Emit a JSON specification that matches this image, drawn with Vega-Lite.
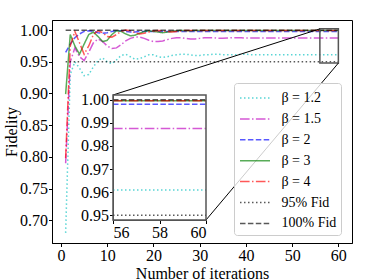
{
"$schema": "https://vega.github.io/schema/vega-lite/v6.json",
"width": 300, "height": 223,
"autosize": {"type": "none"},
"padding": {"left": 52, "top": 20, "right": 22, "bottom": 37},
"datasets": {
"fid": [
{"i":1,"f":0.680,"s":"β = 1.2"},{"i":2,"f":0.930,"s":"β = 1.2"},{"i":3,"f":0.950,"s":"β = 1.2"},{"i":4,"f":0.940,"s":"β = 1.2"},{"i":5,"f":0.928,"s":"β = 1.2"},{"i":6,"f":0.930,"s":"β = 1.2"},{"i":7,"f":0.942,"s":"β = 1.2"},{"i":8,"f":0.952,"s":"β = 1.2"},{"i":9,"f":0.956,"s":"β = 1.2"},{"i":10,"f":0.950,"s":"β = 1.2"},
{"i":11,"f":0.947,"s":"β = 1.2"},{"i":12,"f":0.953,"s":"β = 1.2"},{"i":13,"f":0.960,"s":"β = 1.2"},{"i":14,"f":0.962,"s":"β = 1.2"},{"i":15,"f":0.958,"s":"β = 1.2"},{"i":16,"f":0.954,"s":"β = 1.2"},{"i":17,"f":0.955,"s":"β = 1.2"},{"i":18,"f":0.958,"s":"β = 1.2"},{"i":19,"f":0.961,"s":"β = 1.2"},{"i":20,"f":0.961,"s":"β = 1.2"},
{"i":21,"f":0.958,"s":"β = 1.2"},{"i":22,"f":0.957,"s":"β = 1.2"},{"i":23,"f":0.958,"s":"β = 1.2"},{"i":24,"f":0.960,"s":"β = 1.2"},{"i":25,"f":0.961,"s":"β = 1.2"},{"i":26,"f":0.962,"s":"β = 1.2"},{"i":27,"f":0.962,"s":"β = 1.2"},{"i":28,"f":0.961,"s":"β = 1.2"},{"i":29,"f":0.960,"s":"β = 1.2"},{"i":30,"f":0.960,"s":"β = 1.2"},
{"i":31,"f":0.961,"s":"β = 1.2"},{"i":32,"f":0.961,"s":"β = 1.2"},{"i":33,"f":0.962,"s":"β = 1.2"},{"i":34,"f":0.962,"s":"β = 1.2"},{"i":35,"f":0.961,"s":"β = 1.2"},{"i":36,"f":0.961,"s":"β = 1.2"},{"i":37,"f":0.961,"s":"β = 1.2"},{"i":38,"f":0.961,"s":"β = 1.2"},{"i":39,"f":0.962,"s":"β = 1.2"},{"i":40,"f":0.962,"s":"β = 1.2"},
{"i":41,"f":0.961,"s":"β = 1.2"},{"i":42,"f":0.961,"s":"β = 1.2"},{"i":43,"f":0.961,"s":"β = 1.2"},{"i":44,"f":0.961,"s":"β = 1.2"},{"i":45,"f":0.961,"s":"β = 1.2"},{"i":46,"f":0.961,"s":"β = 1.2"},{"i":47,"f":0.961,"s":"β = 1.2"},{"i":48,"f":0.961,"s":"β = 1.2"},{"i":49,"f":0.961,"s":"β = 1.2"},{"i":50,"f":0.961,"s":"β = 1.2"},
{"i":51,"f":0.961,"s":"β = 1.2"},{"i":52,"f":0.961,"s":"β = 1.2"},{"i":53,"f":0.961,"s":"β = 1.2"},{"i":54,"f":0.961,"s":"β = 1.2"},{"i":55,"f":0.961,"s":"β = 1.2"},{"i":56,"f":0.961,"s":"β = 1.2"},{"i":57,"f":0.961,"s":"β = 1.2"},{"i":58,"f":0.961,"s":"β = 1.2"},{"i":59,"f":0.961,"s":"β = 1.2"},{"i":60,"f":0.961,"s":"β = 1.2"},
{"i":1,"f":0.790,"s":"β = 1.5"},{"i":2,"f":0.950,"s":"β = 1.5"},{"i":3,"f":0.972,"s":"β = 1.5"},{"i":4,"f":0.958,"s":"β = 1.5"},{"i":5,"f":0.952,"s":"β = 1.5"},{"i":6,"f":0.965,"s":"β = 1.5"},{"i":7,"f":0.980,"s":"β = 1.5"},{"i":8,"f":0.986,"s":"β = 1.5"},{"i":9,"f":0.982,"s":"β = 1.5"},{"i":10,"f":0.975,"s":"β = 1.5"},
{"i":11,"f":0.971,"s":"β = 1.5"},{"i":12,"f":0.972,"s":"β = 1.5"},{"i":13,"f":0.977,"s":"β = 1.5"},{"i":14,"f":0.983,"s":"β = 1.5"},{"i":15,"f":0.987,"s":"β = 1.5"},{"i":16,"f":0.989,"s":"β = 1.5"},{"i":17,"f":0.989,"s":"β = 1.5"},{"i":18,"f":0.987,"s":"β = 1.5"},{"i":19,"f":0.984,"s":"β = 1.5"},{"i":20,"f":0.982,"s":"β = 1.5"},
{"i":21,"f":0.982,"s":"β = 1.5"},{"i":22,"f":0.983,"s":"β = 1.5"},{"i":23,"f":0.985,"s":"β = 1.5"},{"i":24,"f":0.987,"s":"β = 1.5"},{"i":25,"f":0.988,"s":"β = 1.5"},{"i":26,"f":0.988,"s":"β = 1.5"},{"i":27,"f":0.987,"s":"β = 1.5"},{"i":28,"f":0.986,"s":"β = 1.5"},{"i":29,"f":0.986,"s":"β = 1.5"},{"i":30,"f":0.987,"s":"β = 1.5"},
{"i":31,"f":0.988,"s":"β = 1.5"},{"i":32,"f":0.988,"s":"β = 1.5"},{"i":33,"f":0.988,"s":"β = 1.5"},{"i":34,"f":0.987,"s":"β = 1.5"},{"i":35,"f":0.987,"s":"β = 1.5"},{"i":36,"f":0.9875,"s":"β = 1.5"},{"i":37,"f":0.988,"s":"β = 1.5"},{"i":38,"f":0.988,"s":"β = 1.5"},{"i":39,"f":0.988,"s":"β = 1.5"},{"i":40,"f":0.9875,"s":"β = 1.5"},
{"i":41,"f":0.9875,"s":"β = 1.5"},{"i":42,"f":0.9875,"s":"β = 1.5"},{"i":43,"f":0.9875,"s":"β = 1.5"},{"i":44,"f":0.9875,"s":"β = 1.5"},{"i":45,"f":0.9875,"s":"β = 1.5"},{"i":46,"f":0.9875,"s":"β = 1.5"},{"i":47,"f":0.9875,"s":"β = 1.5"},{"i":48,"f":0.9875,"s":"β = 1.5"},{"i":49,"f":0.9875,"s":"β = 1.5"},{"i":50,"f":0.9875,"s":"β = 1.5"},
{"i":51,"f":0.9875,"s":"β = 1.5"},{"i":52,"f":0.9875,"s":"β = 1.5"},{"i":53,"f":0.9875,"s":"β = 1.5"},{"i":54,"f":0.9875,"s":"β = 1.5"},{"i":55,"f":0.9875,"s":"β = 1.5"},{"i":56,"f":0.9875,"s":"β = 1.5"},{"i":57,"f":0.9875,"s":"β = 1.5"},{"i":58,"f":0.9875,"s":"β = 1.5"},{"i":59,"f":0.9875,"s":"β = 1.5"},{"i":60,"f":0.9875,"s":"β = 1.5"},
{"i":1,"f":0.965,"s":"β = 2"},{"i":2,"f":0.978,"s":"β = 2"},{"i":3,"f":0.988,"s":"β = 2"},{"i":4,"f":0.994,"s":"β = 2"},{"i":5,"f":0.998,"s":"β = 2"},{"i":6,"f":0.999,"s":"β = 2"},{"i":7,"f":0.998,"s":"β = 2"},{"i":8,"f":0.996,"s":"β = 2"},{"i":9,"f":0.995,"s":"β = 2"},{"i":10,"f":0.996,"s":"β = 2"},
{"i":11,"f":0.998,"s":"β = 2"},{"i":12,"f":0.999,"s":"β = 2"},{"i":13,"f":0.999,"s":"β = 2"},{"i":14,"f":0.998,"s":"β = 2"},{"i":15,"f":0.997,"s":"β = 2"},{"i":16,"f":0.997,"s":"β = 2"},{"i":17,"f":0.998,"s":"β = 2"},{"i":18,"f":0.998,"s":"β = 2"},{"i":19,"f":0.998,"s":"β = 2"},{"i":20,"f":0.998,"s":"β = 2"},
{"i":21,"f":0.998,"s":"β = 2"},{"i":22,"f":0.998,"s":"β = 2"},{"i":23,"f":0.998,"s":"β = 2"},{"i":24,"f":0.998,"s":"β = 2"},{"i":25,"f":0.998,"s":"β = 2"},{"i":26,"f":0.998,"s":"β = 2"},{"i":27,"f":0.998,"s":"β = 2"},{"i":28,"f":0.998,"s":"β = 2"},{"i":29,"f":0.998,"s":"β = 2"},{"i":30,"f":0.998,"s":"β = 2"},
{"i":31,"f":0.998,"s":"β = 2"},{"i":32,"f":0.998,"s":"β = 2"},{"i":33,"f":0.998,"s":"β = 2"},{"i":34,"f":0.998,"s":"β = 2"},{"i":35,"f":0.998,"s":"β = 2"},{"i":36,"f":0.998,"s":"β = 2"},{"i":37,"f":0.998,"s":"β = 2"},{"i":38,"f":0.998,"s":"β = 2"},{"i":39,"f":0.998,"s":"β = 2"},{"i":40,"f":0.998,"s":"β = 2"},
{"i":41,"f":0.998,"s":"β = 2"},{"i":42,"f":0.998,"s":"β = 2"},{"i":43,"f":0.998,"s":"β = 2"},{"i":44,"f":0.998,"s":"β = 2"},{"i":45,"f":0.998,"s":"β = 2"},{"i":46,"f":0.998,"s":"β = 2"},{"i":47,"f":0.998,"s":"β = 2"},{"i":48,"f":0.998,"s":"β = 2"},{"i":49,"f":0.998,"s":"β = 2"},{"i":50,"f":0.998,"s":"β = 2"},
{"i":51,"f":0.998,"s":"β = 2"},{"i":52,"f":0.998,"s":"β = 2"},{"i":53,"f":0.998,"s":"β = 2"},{"i":54,"f":0.998,"s":"β = 2"},{"i":55,"f":0.998,"s":"β = 2"},{"i":56,"f":0.998,"s":"β = 2"},{"i":57,"f":0.998,"s":"β = 2"},{"i":58,"f":0.998,"s":"β = 2"},{"i":59,"f":0.998,"s":"β = 2"},{"i":60,"f":0.998,"s":"β = 2"},
{"i":1,"f":0.899,"s":"β = 3"},{"i":2,"f":0.993,"s":"β = 3"},{"i":3,"f":0.975,"s":"β = 3"},{"i":4,"f":0.962,"s":"β = 3"},{"i":5,"f":0.978,"s":"β = 3"},{"i":6,"f":0.993,"s":"β = 3"},{"i":7,"f":0.997,"s":"β = 3"},{"i":8,"f":0.990,"s":"β = 3"},{"i":9,"f":0.982,"s":"β = 3"},{"i":10,"f":0.984,"s":"β = 3"},
{"i":11,"f":0.993,"s":"β = 3"},{"i":12,"f":0.999,"s":"β = 3"},{"i":13,"f":0.998,"s":"β = 3"},{"i":14,"f":0.994,"s":"β = 3"},{"i":15,"f":0.991,"s":"β = 3"},{"i":16,"f":0.992,"s":"β = 3"},{"i":17,"f":0.995,"s":"β = 3"},{"i":18,"f":0.998,"s":"β = 3"},{"i":19,"f":0.999,"s":"β = 3"},{"i":20,"f":0.998,"s":"β = 3"},
{"i":21,"f":0.997,"s":"β = 3"},{"i":22,"f":0.996,"s":"β = 3"},{"i":23,"f":0.997,"s":"β = 3"},{"i":24,"f":0.998,"s":"β = 3"},{"i":25,"f":0.999,"s":"β = 3"},{"i":26,"f":0.9995,"s":"β = 3"},{"i":27,"f":0.999,"s":"β = 3"},{"i":28,"f":0.999,"s":"β = 3"},{"i":29,"f":0.9995,"s":"β = 3"},{"i":30,"f":0.9995,"s":"β = 3"},
{"i":31,"f":0.9995,"s":"β = 3"},{"i":32,"f":0.9995,"s":"β = 3"},{"i":33,"f":0.9995,"s":"β = 3"},{"i":34,"f":0.9995,"s":"β = 3"},{"i":35,"f":0.9995,"s":"β = 3"},{"i":36,"f":0.9995,"s":"β = 3"},{"i":37,"f":0.9995,"s":"β = 3"},{"i":38,"f":0.9995,"s":"β = 3"},{"i":39,"f":0.9995,"s":"β = 3"},{"i":40,"f":0.9995,"s":"β = 3"},
{"i":41,"f":0.9995,"s":"β = 3"},{"i":42,"f":0.9995,"s":"β = 3"},{"i":43,"f":0.9995,"s":"β = 3"},{"i":44,"f":0.9995,"s":"β = 3"},{"i":45,"f":0.9995,"s":"β = 3"},{"i":46,"f":0.9995,"s":"β = 3"},{"i":47,"f":0.9995,"s":"β = 3"},{"i":48,"f":0.9995,"s":"β = 3"},{"i":49,"f":0.9995,"s":"β = 3"},{"i":50,"f":0.9995,"s":"β = 3"},
{"i":51,"f":0.9995,"s":"β = 3"},{"i":52,"f":0.9995,"s":"β = 3"},{"i":53,"f":0.9995,"s":"β = 3"},{"i":54,"f":0.9995,"s":"β = 3"},{"i":55,"f":0.9995,"s":"β = 3"},{"i":56,"f":0.9995,"s":"β = 3"},{"i":57,"f":0.9995,"s":"β = 3"},{"i":58,"f":0.9995,"s":"β = 3"},{"i":59,"f":0.9995,"s":"β = 3"},{"i":60,"f":0.9995,"s":"β = 3"},
{"i":1,"f":0.798,"s":"β = 4"},{"i":2,"f":0.975,"s":"β = 4"},{"i":3,"f":0.998,"s":"β = 4"},{"i":4,"f":0.980,"s":"β = 4"},{"i":5,"f":0.962,"s":"β = 4"},{"i":6,"f":0.975,"s":"β = 4"},{"i":7,"f":0.993,"s":"β = 4"},{"i":8,"f":0.999,"s":"β = 4"},{"i":9,"f":0.996,"s":"β = 4"},{"i":10,"f":0.990,"s":"β = 4"},
{"i":11,"f":0.989,"s":"β = 4"},{"i":12,"f":0.993,"s":"β = 4"},{"i":13,"f":0.998,"s":"β = 4"},{"i":14,"f":1.000,"s":"β = 4"},{"i":15,"f":0.999,"s":"β = 4"},{"i":16,"f":0.996,"s":"β = 4"},{"i":17,"f":0.994,"s":"β = 4"},{"i":18,"f":0.995,"s":"β = 4"},{"i":19,"f":0.997,"s":"β = 4"},{"i":20,"f":0.999,"s":"β = 4"},
{"i":21,"f":0.9995,"s":"β = 4"},{"i":22,"f":0.999,"s":"β = 4"},{"i":23,"f":0.998,"s":"β = 4"},{"i":24,"f":0.997,"s":"β = 4"},{"i":25,"f":0.998,"s":"β = 4"},{"i":26,"f":0.999,"s":"β = 4"},{"i":27,"f":0.9995,"s":"β = 4"},{"i":28,"f":0.9995,"s":"β = 4"},{"i":29,"f":0.9995,"s":"β = 4"},{"i":30,"f":0.9995,"s":"β = 4"},
{"i":31,"f":0.9995,"s":"β = 4"},{"i":32,"f":0.9995,"s":"β = 4"},{"i":33,"f":0.9995,"s":"β = 4"},{"i":34,"f":0.9995,"s":"β = 4"},{"i":35,"f":0.9995,"s":"β = 4"},{"i":36,"f":0.9995,"s":"β = 4"},{"i":37,"f":0.9995,"s":"β = 4"},{"i":38,"f":0.9995,"s":"β = 4"},{"i":39,"f":0.9995,"s":"β = 4"},{"i":40,"f":0.9995,"s":"β = 4"},
{"i":41,"f":0.9995,"s":"β = 4"},{"i":42,"f":0.9995,"s":"β = 4"},{"i":43,"f":0.9995,"s":"β = 4"},{"i":44,"f":0.9995,"s":"β = 4"},{"i":45,"f":0.9995,"s":"β = 4"},{"i":46,"f":0.9995,"s":"β = 4"},{"i":47,"f":0.9995,"s":"β = 4"},{"i":48,"f":0.9995,"s":"β = 4"},{"i":49,"f":0.9995,"s":"β = 4"},{"i":50,"f":0.9995,"s":"β = 4"},
{"i":51,"f":0.9995,"s":"β = 4"},{"i":52,"f":0.9995,"s":"β = 4"},{"i":53,"f":0.9995,"s":"β = 4"},{"i":54,"f":0.9995,"s":"β = 4"},{"i":55,"f":0.9995,"s":"β = 4"},{"i":56,"f":0.9995,"s":"β = 4"},{"i":57,"f":0.9995,"s":"β = 4"},{"i":58,"f":0.9995,"s":"β = 4"},{"i":59,"f":0.9995,"s":"β = 4"},{"i":60,"f":0.9995,"s":"β = 4"},
{"i":1,"f":0.95,"s":"95% Fid"},{"i":56,"f":0.95,"s":"95% Fid"},{"i":60,"f":0.95,"s":"95% Fid"},
{"i":1,"f":1.0,"s":"100% Fid"},{"i":56,"f":1.0,"s":"100% Fid"},{"i":60,"f":1.0,"s":"100% Fid"}
],
"zoombox": [{"i":56,"i2":60,"f":0.948,"f2":1.002}],
"connectors": [{"i":56,"f":1.002,"i2":11.246,"f2":0.8976},{"i":60,"f":0.948,"i2":31.365,"f2":0.7003}]
},
"config": {
"font": "Liberation Serif",
"view": {"stroke": "black", "strokeWidth": 1},
"axis": {"grid": false, "domainColor": "black", "tickColor": "black", "labelColor": "black", "titleColor": "black", "labelFont": "Liberation Serif", "titleFont": "Liberation Serif", "labelFontSize": 16, "titleFontSize": 16, "titleFontWeight": "normal", "tickSize": 3.5, "labelPadding": 1, "domainWidth": 1, "tickWidth": 1},
"legend": {"labelFont": "Liberation Serif", "labelFontSize": 14, "labelColor": "black", "symbolType": "M-1.5,0H1.5", "symbolSize": 400, "symbolOffset": 6, "symbolStrokeWidth": 1.5, "symbolOpacity": 0.65, "padding": 4, "rowPadding": 2.9, "labelOffset": 15.5, "strokeColor": "#cccccc", "fillColor": "rgba(255,255,255,0.8)", "cornerRadius": 3, "labelLimit": 200}
},
"layer": [
{"encoding": {
"x": {"field": "i", "type": "quantitative", "scale": {"domain": [-1.95, 62.95], "nice": false, "zero": false}, "axis": {"values": [0,10,20,30,40,50,60], "title": "Number of iterations", "titlePadding": 1.5}},
"y": {"field": "f", "type": "quantitative", "scale": {"domain": [0.664, 1.016], "nice": false, "zero": false}, "axis": {"values": [0.70,0.75,0.80,0.85,0.90,0.95,1.00], "format": ".2f", "title": "Fidelity", "titlePadding": 0}}
},
"layer": [
{"data": {"name": "fid"},
"mark": {"type": "line", "strokeWidth": 1.5, "opacity": 0.65},
"encoding": {
"color": {"field": "s", "type": "nominal", "scale": {"domain": ["β = 1.2","β = 1.5","β = 2","β = 3","β = 4","95% Fid","100% Fid"], "range": ["#00bfbf","#bf00bf","#0000ff","#008000","#ff0000","#000000","#000000"]}, "legend": {"title": null, "orient": "none", "legendX": 182, "legendY": 63}},
"strokeDash": {"field": "s", "type": "nominal", "scale": {"domain": ["β = 1.2","β = 1.5","β = 2","β = 3","β = 4","95% Fid","100% Fid"], "range": [[1.5,2.5],[9.6,2.4,1.5,2.4],[5.5,2.4],[1,0],[9.6,2.4,1.5,2.4],[1.5,2.5],[5.5,2.4]]}, "legend": {"title": null, "orient": "none", "legendX": 182, "legendY": 63}}
}},
{"data": {"name": "zoombox"},
"mark": {"type": "rect", "fill": null, "fillOpacity": 0, "stroke": "#555555", "strokeWidth": 1.5},
"encoding": {"x2": {"field": "i2"}, "y2": {"field": "f2"}}},
{"data": {"name": "connectors"},
"mark": {"type": "rule", "color": "black", "strokeWidth": 1},
"encoding": {"x2": {"field": "i2"}, "y2": {"field": "f2"}}}
]},
{"encoding": {
"x": {"field": "i", "type": "quantitative", "scale": {"domain": [56, 60], "range": [61, 154], "nice": false, "zero": false}, "axis": {"orient": "bottom", "offset": -23, "values": [56,58,60], "title": null, "domainColor": "#555555"}},
"y": {"field": "f", "type": "quantitative", "scale": {"domain": [0.948, 1.002], "range": [200, 75], "nice": false, "zero": false}, "axis": {"orient": "left", "offset": -61, "values": [0.95,0.96,0.97,0.98,0.99,1.00], "format": ".2f", "title": null, "domainColor": "#555555"}}
},
"layer": [
{"data": {"name": "fid"},
"transform": [{"filter": "datum.i >= 56"}],
"mark": {"type": "line", "strokeWidth": 1.5, "opacity": 0.65},
"encoding": {
"color": {"field": "s", "type": "nominal", "scale": {"domain": ["β = 1.2","β = 1.5","β = 2","β = 3","β = 4","95% Fid","100% Fid"], "range": ["#00bfbf","#bf00bf","#0000ff","#008000","#ff0000","#000000","#000000"]}, "legend": {"title": null, "orient": "none", "legendX": 182, "legendY": 63}},
"strokeDash": {"field": "s", "type": "nominal", "scale": {"domain": ["β = 1.2","β = 1.5","β = 2","β = 3","β = 4","95% Fid","100% Fid"], "range": [[1.5,2.5],[9.6,2.4,1.5,2.4],[5.5,2.4],[1,0],[9.6,2.4,1.5,2.4],[1.5,2.5],[5.5,2.4]]}, "legend": {"title": null, "orient": "none", "legendX": 182, "legendY": 63}}
}},
{"data": {"name": "zoombox"},
"mark": {"type": "rect", "fill": null, "fillOpacity": 0, "stroke": "#555555", "strokeWidth": 1.5},
"encoding": {"x2": {"field": "i2"}, "y2": {"field": "f2"}}}
]}
],
"resolve": {"scale": {"x": "independent", "y": "independent"}}
}
